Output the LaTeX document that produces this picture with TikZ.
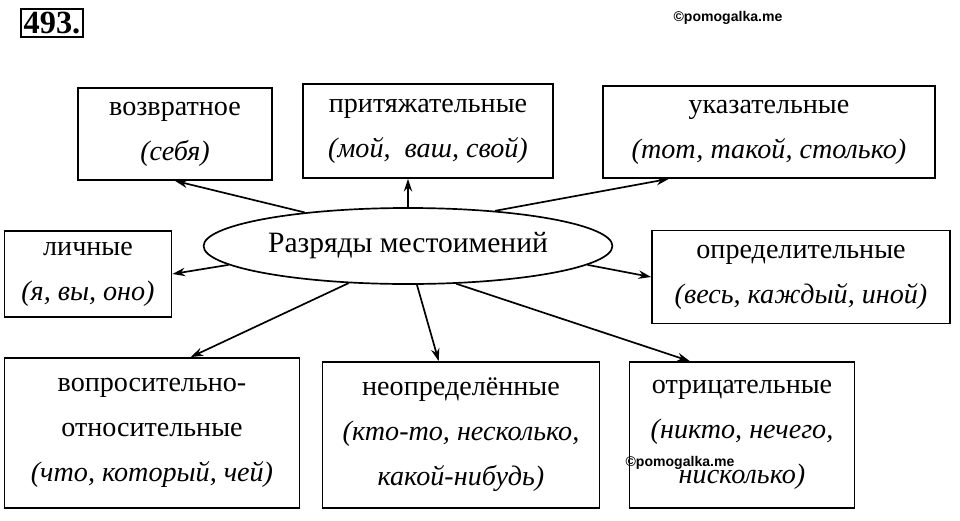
\documentclass[tikz,border=0pt]{standalone}
\usepackage{fontspec}
\setmainfont{Liberation Serif}
\newfontfamily\wmfont{Liberation Sans}
\usetikzlibrary{shapes.geometric,arrows.meta,positioning,calc}
\tikzset{
  kind/.style={draw,line width=1.2pt,align=center,inner sep=0pt,
    font=\fontsize{20}{32}\selectfont},
  link/.style={-{Stealth[length=9pt,width=6pt]},line width=1.2pt},
  wmark/.style={font=\wmfont\bfseries\fontsize{10}{12}\selectfont}
}
\begin{document}
\begin{tikzpicture}[x=0.025cm,y=-0.025cm]
\useasboundingbox (0,0) rectangle (960,520);
\node[draw,line width=1.5pt,inner sep=2pt,font=\bfseries\fontsize{23}{24}\selectfont] (num) at (52,23) {493.};
\node[wmark] (wm1) at (728,18) {©pomogalka.me};
\node[wmark] (wm2) at (680,463) {©pomogalka.me};
\node[draw,ellipse,line width=1.2pt,minimum width=8.15cm,minimum height=1.9cm,
  font=\fontsize{21}{32}\selectfont] (ell) at (408,246) {Разряды местоимений};
\node[kind,minimum width=4.85cm,minimum height=2.3cm] (b1) at (175,134)
  {возвратное\\{\itshape(себя)}};
\node[kind,minimum width=6.25cm,minimum height=2.35cm] (b2) at (428,131)
  {притяжательные\\{\itshape(мой,\ \ ваш, свой)}};
\node[kind,minimum width=8.3cm,minimum height=2.3cm] (b3) at (769,132)
  {указательные\\{\itshape(тот, такой, столько)}};
\node[kind,minimum width=4.18cm,minimum height=2.15cm] (b4) at (88,274)
  {личные\\{\itshape(я, вы, оно)}};
\node[kind,minimum width=7.45cm,minimum height=2.33cm] (b5) at (801,277)
  {определительные\\{\itshape(весь, каждый, иной)}};
\node[kind,minimum width=7.38cm,minimum height=3.75cm] (b6) at (152,433)
  {вопросительно-\\относительные\\{\itshape(что, который, чей)}};
\node[kind,minimum width=6.93cm,minimum height=3.65cm] (b7) at (461,435)
  {неопределённые\\{\itshape(кто-то, несколько,}\\{\itshape какой-нибудь)}};
\node[kind,minimum width=5.63cm,minimum height=3.65cm] (b8) at (742,435)
  {отрицательные\\{\itshape(никто, нечего,}\\{\itshape нисколько)}};
\draw[link] (ell.162) -- (b1.south);
\draw[link] (ell.north) -- (ell.north |- b2.south);
\draw[link] (ell.22) -- ($(b3.south west)!0.2!(b3.south east)$);
\draw[link] (ell.186) -- (b4.east);
\draw[link] (ell.354) -- (b5.west);
\draw[link] (ell.212) -- ($(b6.north west)!0.63!(b6.north east)$);
\draw[link] (ell.283) -- ($(b7.north west)!0.42!(b7.north east)$);
\draw[link] (ell.322) -- ($(b8.north west)!0.27!(b8.north east)$);
\end{tikzpicture}
\end{document}
